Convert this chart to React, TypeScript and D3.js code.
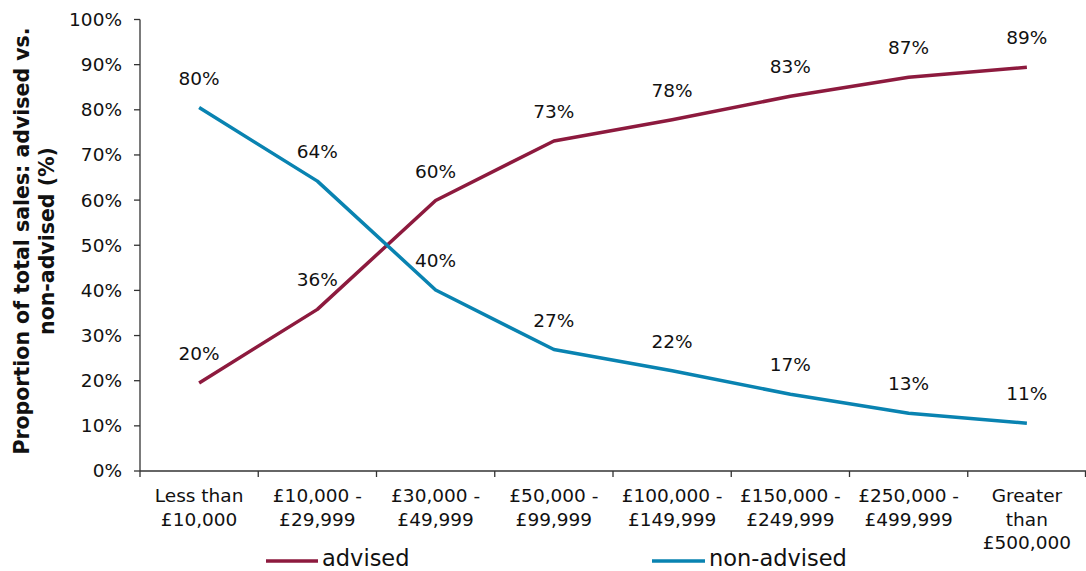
import React from "react";
import * as d3 from "d3";

const categories: string[][] = [
  ["Less than", "£10,000"],
  ["£10,000 -", "£29,999"],
  ["£30,000 -", "£49,999"],
  ["£50,000 -", "£99,999"],
  ["£100,000 -", "£149,999"],
  ["£150,000 -", "£249,999"],
  ["£250,000 -", "£499,999"],
  ["Greater", "than", "£500,000"],
];
const advised = [19.5, 35.8, 59.9, 73.1, 77.8, 83.0, 87.2, 89.4];
const nonAdvised = [80.5, 64.2, 40.1, 26.9, 22.2, 17.0, 12.8, 10.6];
const advisedLabels = ["20%", "36%", "60%", "73%", "78%", "83%", "87%", "89%"];
const nonAdvisedLabels = ["80%", "64%", "40%", "27%", "22%", "17%", "13%", "11%"];
const yTicks = [0, 10, 20, 30, 40, 50, 60, 70, 80, 90, 100];

const W = 1086;
const H = 571;
const left = 140;
const right = 1086;
const top = 19.5;
const bottom = 471;
const FONT = "Verdana, 'DejaVu Sans', sans-serif";
const RED = "#8d1a3e";
const BLUE = "#0983b1";
const FS = 18.5;

export default function App() {
  const x = d3.scaleBand<number>().domain(d3.range(categories.length)).range([left, right]).padding(0);
  const y = d3.scaleLinear().domain([0, 100]).range([bottom, top]);
  const cx = (i: number) => (x(i) as number) + x.bandwidth() / 2;
  const line = d3
    .line<number>()
    .x((_, i) => cx(i))
    .y((d) => y(d));

  const series = [
    { values: advised, labels: advisedLabels, color: RED },
    { values: nonAdvised, labels: nonAdvisedLabels, color: BLUE },
  ];

  return (
    <svg width={W} height={H} style={{ position: "absolute", left: 0, top: 0, background: "#fff" }} fontFamily={FONT}>
      {/* y axis */}
      <line x1={left} x2={left} y1={top} y2={bottom} stroke="#333" strokeWidth={1.3} />
      {yTicks.map((t) => (
        <g key={t}>
          <line x1={left - 6} x2={left} y1={y(t)} y2={y(t)} stroke="#333" strokeWidth={1.3} />
          <text x={122} y={y(t)} dy="0.35em" textAnchor="end" fontSize={FS} fill="#111">
            {t}%
          </text>
        </g>
      ))}
      {/* x axis */}
      <line x1={left} x2={right} y1={bottom} y2={bottom} stroke="#333" strokeWidth={1.3} />
      {d3.range(categories.length + 1).map((i) => {
        const xx = i < categories.length ? (x(i) as number) : right - 0.5;
        return <line key={i} x1={xx} x2={xx} y1={bottom} y2={bottom + 6} stroke="#333" strokeWidth={1.3} />;
      })}
      {categories.map((c, i) => (
        <text key={i} textAnchor="middle" fontSize={FS} fill="#111">
          {c.map((s, j) => (
            <tspan key={j} x={cx(i)} y={502 + j * 23.5}>
              {s}
            </tspan>
          ))}
        </text>
      ))}
      {/* y title */}
      <g transform="translate(22,241) rotate(-90)">
        <text textAnchor="middle" fontSize={20.5} fontWeight="bold" fill="#111" dy="0.35em">
          Proportion of total sales: advised vs.
        </text>
      </g>
      <g transform="translate(47,241) rotate(-90)">
        <text textAnchor="middle" fontSize={20.5} fontWeight="bold" fill="#111" dy="0.35em">
          non-advised (%)
        </text>
      </g>
      {/* lines */}
      {series.map((s, k) => (
        <g key={k}>
          <path d={line(s.values) || ""} fill="none" stroke={s.color} strokeWidth={3.5} strokeLinejoin="round" />
          {s.values.map((v, i) => (
            <text key={i} x={cx(i)} y={y(v) - 23} textAnchor="middle" fontSize={FS} fill="#111">
              {s.labels[i]}
            </text>
          ))}
        </g>
      ))}
      {/* legend */}
      <line x1={266} x2={318} y1={561} y2={561} stroke={RED} strokeWidth={3.5} />
      <text x={322} y={566} fontSize={22.5} fill="#111">advised</text>
      <line x1={652} x2={705} y1={561} y2={561} stroke={BLUE} strokeWidth={3.5} />
      <text x={709} y={566} fontSize={22.5} fill="#111">non-advised</text>
    </svg>
  );
}
